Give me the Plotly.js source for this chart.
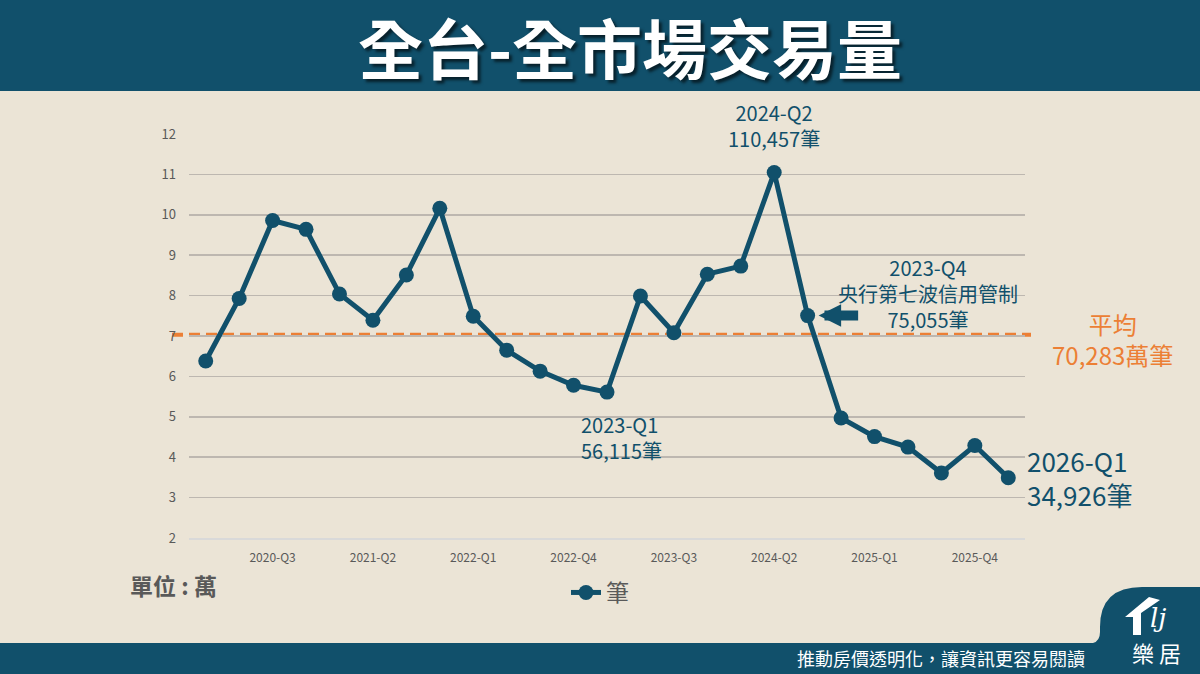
<!DOCTYPE html>
<html>
<head>
<meta charset="utf-8">
<script src="https://cdn.plot.ly/plotly-3.0.1.min.js"></script>
<style>
  html, body { margin: 0; padding: 0; background: #ebe4d6; }
  #chart { width: 1200px; height: 674px; }
</style>
</head>
<body>
<div id="chart"></div>
<script>
// ---- Data ----
const quarters = [
  '2020-Q1','2020-Q2','2020-Q3','2020-Q4',
  '2021-Q1','2021-Q2','2021-Q3','2021-Q4',
  '2022-Q1','2022-Q2','2022-Q3','2022-Q4',
  '2023-Q1','2023-Q2','2023-Q3','2023-Q4',
  '2024-Q1','2024-Q2','2024-Q3','2024-Q4',
  '2025-Q1','2025-Q2','2025-Q3','2025-Q4',
  '2026-Q1'
];
// transactions, unit: 萬筆
const volumes = [
  6.38, 7.93, 9.86, 9.64,
  8.04, 7.39, 8.51, 10.16,
  7.49, 6.65, 6.13, 5.78,
  5.6115, 7.99, 7.08, 8.53,
  8.73, 11.0457, 7.5055, 4.97,
  4.51, 4.25, 3.61, 4.29,
  3.4926
];
const average = 7.0283;
const xTickLabels = ['2020-Q3','2021-Q2','2022-Q1','2022-Q4','2023-Q3','2024-Q2','2025-Q1','2025-Q4'];
const yTicks = [2,3,4,5,6,7,8,9,10,11,12];
const seriesName = '筆';

// ---- Styling ----
const NAVY = '#11506b';
const ORANGE = '#ec7f35';
const BG = '#ebe4d6';
const GRAY = '#595959';
const FONT = '"Noto Sans CJK TC", "Noto Sans", sans-serif';

// plot-area pixel frame (for decorations in paper coords)
const L = 189, R = 1025, T = 134, B = 538;
const PX = x => (x - L) / (R - L);
const PY = y => (B - y) / (B - T);

const trace = {
  type: 'scatter',
  mode: 'lines+markers',
  x: quarters,
  y: volumes,
  name: seriesName,
  line: { color: NAVY, width: 5 },
  marker: { color: NAVY, size: 15 },
  hoverinfo: 'x+y'
};

function ann(o) {
  return Object.assign({ showarrow: false, font: { family: FONT, size: 19, color: NAVY } }, o);
}

const idxQ2 = quarters.indexOf('2024-Q2');
const idxQ1 = quarters.indexOf('2023-Q1');
const idxQ3 = quarters.indexOf('2024-Q3');
const idxLast = quarters.length - 1;

const footerPath =
  'M' + PX(1093) + ',' + PY(643) +
  ' Q' + PX(1100) + ',' + PY(641) + ' ' + PX(1100) + ',' + PY(632) +
  ' L' + PX(1100) + ',' + PY(627) +
  ' Q' + PX(1100) + ',' + PY(587) + ' ' + PX(1142) + ',' + PY(587) +
  ' L' + PX(1200) + ',' + PY(587) +
  ' L' + PX(1200) + ',' + PY(674) +
  ' L' + PX(0) + ',' + PY(674) +
  ' L' + PX(0) + ',' + PY(643) + ' Z';

const housePath =
  'M' + PX(1125) + ',' + PY(617) +
  ' L' + PX(1149) + ',' + PY(597) +
  ' L' + PX(1160) + ',' + PY(600) +
  ' L' + PX(1141) + ',' + PY(613) +
  ' L' + PX(1141) + ',' + PY(635) +
  ' L' + PX(1133) + ',' + PY(635) +
  ' L' + PX(1133) + ',' + PY(617) + ' Z';

const layout = {
  width: 1200,
  height: 674,
  margin: { l: L, r: 1200 - R, t: T, b: 674 - B, pad: 0 },
  paper_bgcolor: BG,
  plot_bgcolor: BG,
  font: { family: FONT, color: GRAY },
  showlegend: true,
  legend: {
    orientation: 'h',
    x: PX(566), y: PY(571), xanchor: 'left', yanchor: 'top',
    font: { family: FONT, size: 23, color: GRAY },
    bgcolor: 'rgba(0,0,0,0)'
  },
  xaxis: {
    type: 'category',
    range: [-0.5, quarters.length - 0.5],
    tickmode: 'array',
    tickvals: xTickLabels,
    ticktext: xTickLabels,
    showgrid: false,
    zeroline: false,
    showline: true,
    linecolor: '#d9d9d9',
    linewidth: 1.5,
    ticks: '',
    ticklabelstandoff: 8,
    tickfont: { family: FONT, size: 12, color: GRAY }
  },
  yaxis: {
    range: [2, 12],
    tickmode: 'array',
    tickvals: yTicks,
    showgrid: true,
    gridcolor: '#bdb7b0',
    gridwidth: 1.5,
    zeroline: false,
    showline: false,
    ticks: '',
    ticklabelstandoff: 12,
    tickfont: { family: FONT, size: 13, color: GRAY }
  },
  shapes: [
    // header band
    { type: 'rect', xref: 'paper', yref: 'paper', x0: PX(0), x1: PX(1200), y0: PY(91), y1: PY(0),
      fillcolor: NAVY, line: { width: 0 }, layer: 'below' },
    // footer band with logo tab
    { type: 'path', xref: 'paper', yref: 'paper', path: footerPath,
      fillcolor: NAVY, line: { width: 0 }, layer: 'below' },
    // logo house
    { type: 'path', xref: 'paper', yref: 'paper', path: housePath,
      fillcolor: '#ffffff', line: { width: 0 }, layer: 'above' },
    // average line
    { type: 'line', xref: 'paper', yref: 'y', x0: PX(172), x1: PX(1031), y0: average, y1: average,
      line: { color: ORANGE, width: 4, dash: '11px,6px' }, layer: 'below' }
  ],
  annotations: [
    // title with drop shadow
    ann({ xref: 'paper', yref: 'paper', x: PX(630), y: PY(46), xanchor: 'center', yanchor: 'middle',
      text: '<b>全台-全市場交易量</b>',
      font: { family: FONT, size: 65, color: '#ffffff', shadow: '3px 3px 3px rgba(0,0,0,0.6)' } }),
    // peak
    ann({ x: quarters[idxQ2], y: volumes[idxQ2], xanchor: 'center', yanchor: 'bottom', yshift: 18,
      text: quarters[idxQ2] + '<br>110,457筆', font: { family: FONT, size: 20, color: NAVY } }),
    // trough
    ann({ x: quarters[idxQ1], y: volumes[idxQ1], xanchor: 'left', yanchor: 'top', xshift: -28, yshift: -16,
      align: 'left', text: '2023-Q1<br>56,115筆', font: { family: FONT, size: 20, color: NAVY } }),
    // policy callout
    ann({ x: quarters[idxQ3], y: volumes[idxQ3], xanchor: 'center', yanchor: 'middle', xshift: 120, yshift: 22,
      text: '2023-Q4<br>央行第七波信用管制<br>75,055筆', font: { family: FONT, size: 20, color: NAVY } }),
    // arrow
    { x: quarters[idxQ3], y: volumes[idxQ3], ax: 52, ay: 0, text: '', showarrow: true,
      arrowhead: 2, arrowsize: 0.45, arrowwidth: 10, arrowcolor: NAVY, standoff: 11 },
    // last value
    ann({ x: quarters[idxLast], y: volumes[idxLast], xanchor: 'left', yanchor: 'middle', xshift: 17, yshift: 0,
      align: 'left', text: '2026-Q1<br>34,926筆', font: { family: FONT, size: 26, color: NAVY } }),
    // average label
    ann({ xref: 'paper', yref: 'y', x: PX(1112), y: average, xanchor: 'center', yanchor: 'middle', yshift: -4,
      text: '平均<br>70,283萬筆', font: { family: FONT, size: 24, color: ORANGE } }),
    // unit
    ann({ xref: 'paper', yref: 'paper', x: PX(128), y: PY(585), xanchor: 'left', yanchor: 'middle',
      text: '<b>單位 : 萬</b>', font: { family: FONT, size: 23, color: GRAY } }),
    // footer slogan
    ann({ xref: 'paper', yref: 'paper', x: PX(1087), y: PY(658), xanchor: 'right', yanchor: 'middle',
      text: '推動房價透明化，讓資訊更容易閱讀', font: { family: FONT, size: 18, color: '#ffffff' } }),
    // logo text
    ann({ xref: 'paper', yref: 'paper', x: PX(1156), y: PY(652), xanchor: 'center', yanchor: 'middle',
      text: '樂 居', font: { family: FONT, size: 22, color: '#ffffff' } }),
    ann({ xref: 'paper', yref: 'paper', x: PX(1158), y: PY(618), xanchor: 'center', yanchor: 'middle',
      text: '<i>lj</i>', font: { family: '"DejaVu Serif", serif', size: 26, color: '#ffffff' } })
  ]
};

Plotly.newPlot('chart', [trace], layout, { staticPlot: true, displayModeBar: false });
</script>
</body>
</html>
